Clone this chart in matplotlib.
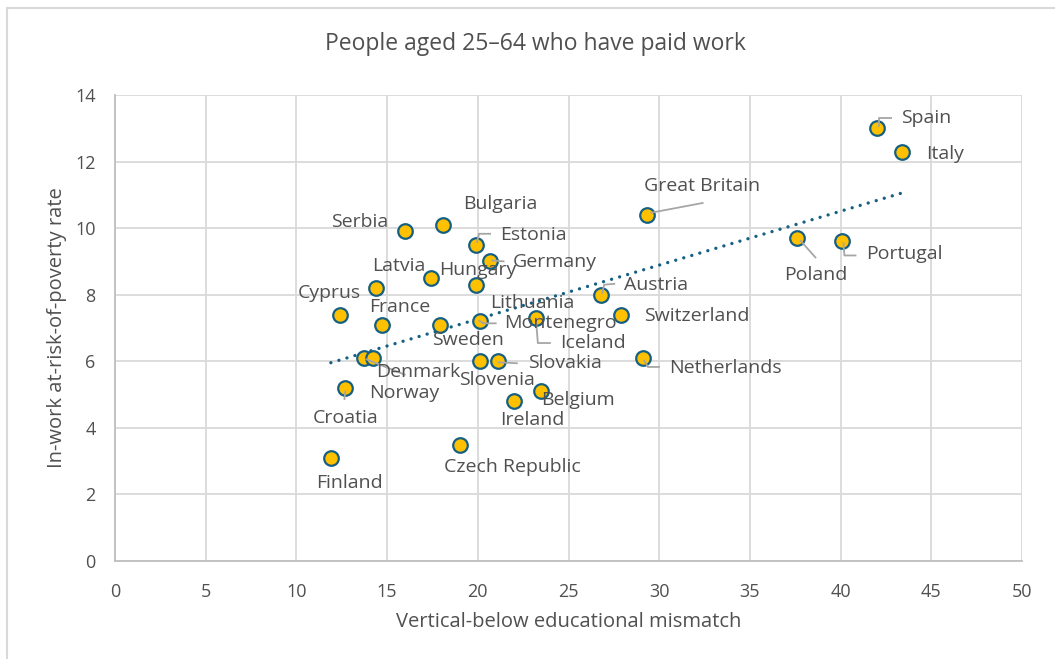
import matplotlib
matplotlib.use("Agg")
import matplotlib.pyplot as plt
from matplotlib.lines import Line2D
import numpy as np

plt.rcParams['font.family'] = ['Open Sans', 'DejaVu Sans']

# Country values: mismatch share (x) vs in-work poverty rate (y)
countries = ['Spain', 'Italy', 'Great Britain', 'Poland', 'Portugal', 'Serbia',
             'Bulgaria', 'Estonia', 'Germany', 'Hungary', 'Lithuania', 'Latvia',
             'Cyprus', 'France', 'Sweden', 'Montenegro', 'Iceland', 'Austria',
             'Switzerland', 'Netherlands', 'Denmark', 'Norway', 'Slovenia',
             'Slovakia', 'Croatia', 'Belgium', 'Ireland', 'Czech Republic', 'Finland']
mismatch = [42.0, 43.4, 29.3, 37.6, 40.1, 16.0,
            18.1, 19.9, 20.7, 17.4, 19.9, 14.4,
            12.4, 14.7, 17.9, 20.1, 23.2, 26.8,
            27.9, 29.1, 13.7, 14.2, 20.1,
            21.1, 12.7, 23.5, 22.0, 19.0, 11.9]
poverty = [13.0, 12.3, 10.4, 9.7, 9.6, 9.9,
           10.1, 9.5, 9.0, 8.5, 8.3, 8.2,
           7.4, 7.1, 7.1, 7.2, 7.3, 8.0,
           7.4, 6.1, 6.1, 6.1, 6.0,
           6.0, 5.2, 5.1, 4.8, 3.5, 3.1]

# label placement, pixel offsets from the marker (x right, y down)
label_offsets = {
    'Spain': (49, -10), 'Italy': (43, 2), 'Great Britain': (56, -29),
    'Poland': (19, 37), 'Portugal': (62, 13), 'Serbia': (-46, -9),
    'Bulgaria': (57, -21), 'Estonia': (57, -10), 'Germany': (64, 1),
    'Hungary': (47, -8), 'Lithuania': (56, 18), 'Latvia': (23, -22),
    'Cyprus': (-11, -22), 'France': (18, -18), 'Sweden': (28, 15),
    'Montenegro': (81, 2), 'Iceland': (57, 25), 'Austria': (55, -10),
    'Switzerland': (76, 1), 'Netherlands': (83, 10), 'Denmark': (55, 14),
    'Norway': (32, 35), 'Slovenia': (17, 19), 'Slovakia': (67, 2),
    'Croatia': (0, 30), 'Belgium': (37, 9), 'Ireland': (18, 19),
    'Czech Republic': (53, 22), 'Finland': (19, 25),
}
# leader lines, same pixel offsets
leaders = {
    'Spain': [(2, -1), (2, -10), (15, -10)],
    'Great Britain': [(4, -2), (57, -12)],
    'Poland': [(3, 2), (19, 20)],
    'Portugal': [(1, 1), (2, 14), (14, 14)],
    'Estonia': [(1, -2), (3, -11), (15, -11)],
    'Germany': [(1, -1), (14, 0)],
    'Montenegro': [(-1, -1), (4, 2), (17, 2)],
    'Iceland': [(0, 0), (2, 25), (15, 25)],
    'Austria': [(1, -1), (3, -10), (14, -11)],
    'Netherlands': [(1, 2), (5, 9), (17, 9)],
    'Denmark': [(2, 1), (42, 17)],
    'Croatia': [(0, 3), (-1, 12)],
    'Slovakia': [(0, 1), (20, 2)],
}

text_col = '#505050'
grid_col = '#D9D9D9'
teal = '#156082'

fig = plt.figure(figsize=(10.55, 6.59), dpi=100)
ax = fig.add_axes([115 / 1055, 98 / 659, 907 / 1055, 466 / 659])

ax.set_xlim(0, 50)
ax.set_ylim(0, 14)
ax.set_xticks(np.arange(0, 51, 5))
ax.set_yticks(np.arange(0, 15, 2))
ax.grid(True, color=grid_col, lw=1.3)
ax.set_axisbelow(True)
for s in ['top', 'right']:
    ax.spines[s].set_visible(False)
for s in ['left', 'bottom']:
    ax.spines[s].set_color('#BFBFBF')
    ax.spines[s].set_linewidth(1.3)
ax.tick_params(length=0, labelsize=13, labelcolor=text_col)
ax.tick_params(axis='x', pad=16)
ax.tick_params(axis='y', pad=14)

# linear trend over the data range
x = np.array(mismatch)
y = np.array(poverty)
k, b = np.polyfit(x, y, 1)
xs = np.array([x.min(), x.max()])
ax.plot(xs, k * xs + b, color=teal, lw=2.4, linestyle=(0, (0.01, 2.5)),
        dash_capstyle='round', zorder=2)

ax.scatter(x, y, s=110, color='#FFC000', edgecolors=teal, linewidths=1.6, zorder=3)

fig.canvas.draw()
to_data = ax.transData.inverted()
for c, xi, yi in zip(countries, mismatch, poverty):
    dx, dy = label_offsets[c]
    ax.annotate(c, (xi, yi), xytext=(dx, -dy), textcoords='offset pixels',
                ha='center', va='center', fontsize=14, color=text_col, zorder=5)
    if c in leaders:
        px, py = ax.transData.transform((xi, yi))
        pts = to_data.transform([(px + ox, py - oy) for ox, oy in leaders[c]])
        ax.plot(pts[:, 0], pts[:, 1], color='#A6A6A6', lw=1.3, zorder=4,
                solid_capstyle='butt')

fig.text(535 / 1055, 1 - 44 / 659, 'People aged 25\u201364 who have paid work',
         ha='center', va='center', fontsize=16.5, color=text_col)
ax.set_xlabel('Vertical-below educational mismatch', fontsize=14.5, color=text_col, labelpad=8)
ax.set_ylabel('In-work at-risk-of-poverty rate', fontsize=14.5, color=text_col, labelpad=6)

# chart frame edges
fig.add_artist(Line2D([7 / 1055, 7 / 1055], [0, 1 - 8 / 659], transform=fig.transFigure,
                      color='#D9D9D9', lw=1.5))
fig.add_artist(Line2D([7 / 1055, 1], [1 - 8 / 659, 1 - 8 / 659], transform=fig.transFigure,
                      color='#D9D9D9', lw=1.5))

fig.savefig('out.png', dpi=100)
